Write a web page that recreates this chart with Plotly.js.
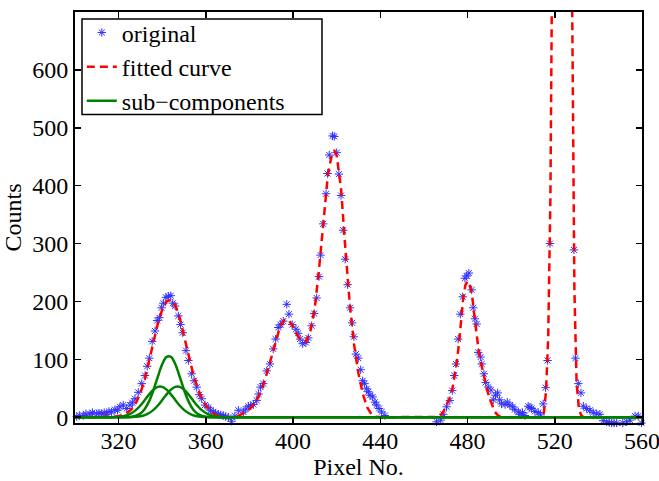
<!DOCTYPE html>
<html>
<head>
<meta charset="utf-8">
<script src="https://cdn.plot.ly/plotly-3.0.1.min.js"></script>
<style>html,body{margin:0;padding:0;background:#fff;}#chart{width:659px;height:481px;}</style>
</head>
<body>
<div id="chart"></div>
<script>
// original measured points
var origX = [300.8,302,303.8,305,306.9,308,310,311,312.2,313.4,314.5,315.6,316.8,318.3,319.5,320.6,322.1,323.7,325.2,326.3,327.5,329,330.6,332.1,333.1,334.1,335.4,336.7,337.7,338.7,339.7,340.5,341.7,342.8,343.9,344.8,345.9,347.4,348.4,349.4,350.9,352,353.5,354.6,355.8,357,358.1,359.6,361.1,362.2,363.4,364.5,365.7,366.8,368,369.1,370.3,371.8,373.3,374.9,377.2,378.3,379.5,380.6,381.8,383.3,384.2,385.1,386.3,387.9,389.4,390.9,392,393.2,394.3,395.5,397.1,398.1,399.6,401.3,402.3,403.2,404.4,405.9,407,408.5,409.7,410.8,411.9,412.6,413.8,415.1,415.8,416.6,418.1,418.9,420,421,422,423,423.9,425,426.1,427.1,427.9,428.8,429.9,431,431.9,432.8,433.7,434.5,435.3,436.5,437.5,438.3,439.4,440.6,442.1,
465.8,467.7,468.9,470.4,471.9,473,473.9,474.7,475.7,476.7,477.8,478.8,479.6,480.6,481.9,482.6,483.4,484.2,484.9,486,486.5,487.5,488.3,489.5,490.7,491.8,492.8,493.8,494.7,495.6,497.2,498.2,499.4,500.7,501.7,503.3,504,505.2,506.3,507.8,508.6,509.4,510.9,512.4,513.5,514.7,515.8,516.7,517.8,
528.8,529.5,530.8,532,533.1,534.6,536.1,537.6,539.2,540.7,542.2,543.8,545,546.1,547.2,548.4,549.9,551.2,553,554.5,556.8,558.3,559.8];
var origY = [1,3,3,6,5,8,6,7,6,8,5,10,9,13,12,18,21,15,21,25,32,43,58,72,88,102,131,149,167,172,189,197,207,209,210,197,192,175,160,146,115,98,75,63,52,39,32,21,17,12,9,7,5,4,3,1,0,-7,2,12,9,14,19,20,22,29,40,52,58,80,92,118,135,155,160,166,195,178,160,152,145,135,127,129,137,158,179,206,243,280,334,386,421,453,486,485,457,420,383,323,273,229,189,163,139,109,102,82,63,58,49,44,38,35,26,21,15,9,3,
-8,-5,5,18,29,46,72,92,135,178,208,240,244,249,220,189,170,161,112,104,92,75,60,52,47,30,38,42,30,23,22,26,21,18,13,9,5,8,3,19,17,15,10,8,4,23,51,98,300,
289,102,58,42,19,15,12,8,6,5,-6,-8,-9,-10,-10,-10,-11,-10,-8,-5,2,2,-10];

// fitted curve
var fitX = [300,316,318,320,322,324,326,328,330,332,334,336,338,340,342,344,346,348,350,352,354,356,358,360,362,364,366,368,370,
372,374,376,378,380,382,384,386,388,390,392,394,396,398,400,402,404,406,408,410,412,414,416,418,419,420,422,424,426,428,430,432,434,436,438,440,
465,466,467,468,469,470,471,472,473,474,475,476,477,478,479,480,481,482,483,484,485,486,487,488,489,490,491,492,493,494,495,496,
513,514,515,516,517,518,519,520,521,522,523,524,525,526,527,528,529,530,531,532,533,534,560];
var fitY = [0,0,1,2,4,8,14,25,42,65,95,130,162,186,200,203,193,172,140,108,78,53,34,20,11,5,2,0.5,0,
0,1,4,8,14,22,34,52,76,102,132,156,168,168,156,141,131,131,150,190,260,345,420,458,460,452,395,290,195,125,75,40,17,5,1,0,
0,0.5,2,5,10,18,26,35,48,68,92,125,162,205,228,235,228,213,180,148,118,96,78,62,47,34,22,14,7,3,1,0,
0,0.5,8,45,140,380,900,1700,2600,3300,3600,3550,3200,2450,1550,700,220,60,18,4,0.5,0,0];

// sub-components
var compX  = [300,314,316,318,320,322,324,326,328,330,332,334,336,338,340,342,344,346,348,350,352,354,356,358,360,362,364,366,368,370,372,560];
var compBig = [0,0,0,0,0,0.07,0.3,0.9,2.6,6.5,14.3,27.8,47.2,70.2,91.4,104.3,104.3,91.4,70.2,47.2,27.8,14.3,6.5,2.6,0.9,0.3,0.07,0,0,0,0,0];
var compLeft = [0,0,0.1,0.3,0.7,1.7,3.7,7.2,12.7,20.3,29.7,39.4,47.6,52.4,52.4,47.6,39.4,29.7,20.3,12.7,7.2,3.7,1.7,0.7,0.3,0.1,0,0,0,0,0,0];
var compRight = [0,0,0,0,0,0,0.1,0.3,0.7,1.7,3.7,7.2,12.7,20.3,29.7,39.4,47.6,52.4,52.4,47.6,39.4,29.7,20.3,12.7,7.2,3.7,1.7,0.7,0.3,0.1,0,0];

var xTicks = [320,360,400,440,480,520,560];
var yTicks = [0,100,200,300,400,500,600];

var FONT = 'Liberation Serif';
var green = '#008000';

var traces = [
  {x: origX, y: origY, mode: 'markers', name: 'original', cliponaxis: false,
   marker: {symbol: 'asterisk-open', size: 7, color: '#3030ff', line: {color: '#3030ff', width: 1}}},
  {x: fitX, y: fitY, mode: 'lines', name: 'fitted curve',
   line: {color: '#ff0000', width: 2.5, dash: '8px,5px'}},
  {x: compX, y: compBig, mode: 'lines', name: 'sub\u2212components', legendgroup: 'c',
   line: {color: green, width: 2.5, shape: 'spline'}},
  {x: compX, y: compLeft, mode: 'lines', name: 'sub\u2212components', legendgroup: 'c', showlegend: false,
   line: {color: green, width: 2.5, shape: 'spline'}},
  {x: compX, y: compRight, mode: 'lines', name: 'sub\u2212components', legendgroup: 'c', showlegend: false,
   line: {color: green, width: 2.5, shape: 'spline'}}
];

var axisCommon = {
  showline: true, linecolor: '#000', linewidth: 2, mirror: 'ticks',
  ticks: 'inside', ticklen: 6, tickwidth: 1.5, tickcolor: '#000',
  showgrid: false, zeroline: false, automargin: false, ticklabeloverflow: 'allow',
  tickfont: {family: FONT, size: 24, color: '#000'}
};

// plot area in px: x 75..642, y 10..423
var PW = 567, PH = 413;
var layout = {
  width: 659, height: 481,
  margin: {l: 75, r: 17, t: 10, b: 58},
  paper_bgcolor: '#fff', plot_bgcolor: '#fff',
  font: {family: FONT, size: 24, color: '#000'},
  showlegend: true,
  legend: {x: 0.012, y: 1.004, xanchor: 'left', yanchor: 'top',
           bgcolor: 'rgba(0,0,0,0)', borderwidth: 0,
           font: {family: FONT, size: 24, color: '#000'}, tracegroupgap: 0},
  shapes: [{type: 'rect', xref: 'paper', yref: 'paper', layer: 'above',
            x0: (82 - 75) / PW, x1: (322 - 75) / PW,
            y0: 1 - (113 - 10) / PH, y1: 1 - (17 - 10) / PH,
            fillcolor: '#fff', line: {color: '#000', width: 1.5}}],
  xaxis: Object.assign({}, axisCommon, {
    range: [300, 560], tickmode: 'array', tickvals: xTicks, ticktext: xTicks.map(String),
    ticklabelstandoff: -5,
    title: {text: 'Pixel No.', font: {family: FONT, size: 24, color: '#000'}, standoff: 0}
  }),
  yaxis: Object.assign({}, axisCommon, {
    range: [-10, 700], tickmode: 'array', tickvals: yTicks, ticktext: yTicks.map(String),
    title: {text: 'Counts', font: {family: FONT, size: 24, color: '#000'}, standoff: 4}
  })
};

Plotly.newPlot('chart', traces, layout, {displayModeBar: false, staticPlot: true});
</script>
</body>
</html>
